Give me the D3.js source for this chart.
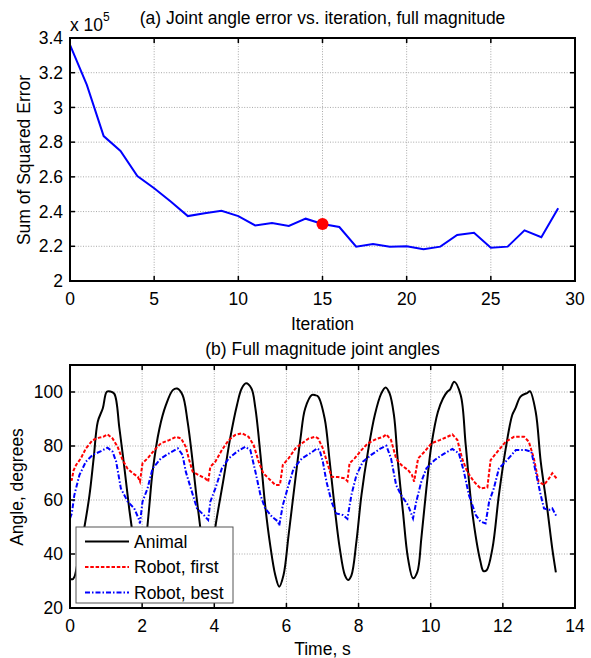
<!DOCTYPE html>
<html>
<head>
<meta charset="utf-8">
<script src="https://cdn.jsdelivr.net/npm/d3@7"></script>
<style>
  body { margin: 0; background: #fff; }
  text { font-family: "Liberation Sans", Arial, Helvetica, sans-serif; fill: #000; }
</style>
</head>
<body>
<svg id="visu" width="591" height="658"></svg>
<script>
// ---- data (a): error per iteration, in units of 1e5
var iterations = d3.range(0, 30);
var sse = [3.36, 3.13, 2.835, 2.749, 2.605, 2.534, 2.457, 2.374, 2.39, 2.405,
  2.374, 2.32, 2.334, 2.317, 2.359, 2.328, 2.311, 2.198, 2.213, 2.198,
  2.2, 2.183, 2.198, 2.265, 2.278, 2.192, 2.198, 2.292, 2.252, 2.419];
var bestIter = 15;
var xTicksA = [0, 5, 10, 15, 20, 25, 30];
var yTicksA = [2, 2.2, 2.4, 2.6, 2.8, 3, 3.2, 3.4];

// ---- data (b): joint angles [time s, angle deg]
var animal = [[0, 31], [0.06, 30.6], [0.12, 31.5], [0.2, 36], [0.3, 43], [0.4, 50], [0.54, 61.8],
  [0.66, 76], [0.77, 89], [0.91, 94], [1.02, 100.1], [1.12, 100.2], [1.23, 99.3], [1.37, 86.5],
  [1.51, 71.7], [1.64, 56.9], [1.76, 45], [1.86, 34], [1.94, 30.5], [2.02, 33], [2.11, 45],
  [2.2, 58], [2.29, 70.5], [2.48, 86.5], [2.66, 95.2], [2.85, 100.7], [2.97, 101.3], [3.12, 98.9],
  [3.26, 89], [3.4, 74.2], [3.5, 62], [3.61, 50], [3.72, 38], [3.82, 31], [3.9, 33], [3.96, 42],
  [4.03, 50], [4.26, 68], [4.44, 82.8], [4.63, 95.2], [4.76, 101.3], [4.88, 103.2], [5.03, 101.3],
  [5.14, 93.9], [5.28, 76.7], [5.41, 58.1], [5.55, 43.3], [5.69, 32.2], [5.8, 27.9], [5.92, 32.2],
  [6.06, 47], [6.25, 68], [6.39, 82.8], [6.52, 93.9], [6.71, 98.9], [6.8, 98.8], [6.88, 98.3],
  [7.06, 90.2], [7.2, 74.2], [7.34, 56.9], [7.48, 42], [7.62, 32.2], [7.71, 30.4], [7.8, 32],
  [7.94, 44.6], [8.08, 61.8], [8.26, 77.9], [8.45, 91.5], [8.63, 99.5], [8.75, 101.7], [8.86, 99.5],
  [8.98, 91.5], [9.09, 74.2], [9.23, 55.7], [9.37, 38.4], [9.51, 31], [9.63, 33.4], [9.74, 45.8],
  [9.88, 64.3], [10.02, 80.4], [10.2, 92.7], [10.34, 97.6], [10.46, 100.1], [10.54, 101],
  [10.65, 103.8], [10.83, 98.9], [10.97, 80.4], [11.15, 55.7], [11.38, 37.1], [11.46, 33.7],
  [11.55, 34], [11.71, 42], [11.89, 61.8], [12.08, 79.1], [12.26, 91.5], [12.35, 94], [12.49, 98.3],
  [12.68, 99.7], [12.75, 100.3], [12.91, 92.7], [13.05, 74.2], [13.23, 56.9], [13.37, 42], [13.47, 33.2]];

var robotFirst = [[0, 67.4], [0.05, 67.5], [0.1, 71], [0.17, 73], [0.3, 75.4], [0.44, 79.1],
  [0.63, 82.2], [0.81, 83.1], [0.92, 83.4], [1.04, 84.3], [1.18, 82.8], [1.32, 79.7], [1.46, 74.8],
  [1.59, 71.7], [1.74, 69.9], [1.88, 68.6], [1.94, 66.8], [2.01, 73.6], [2.15, 75.4], [2.34, 78.5],
  [2.52, 81], [2.75, 82.2], [2.94, 83.4], [3.08, 82.8], [3.21, 79.7], [3.3, 75], [3.4, 70.5],
  [3.57, 69.2], [3.75, 68], [3.83, 66.8], [3.89, 72.3], [4.03, 74.2], [4.21, 78.5], [4.4, 82.2],
  [4.58, 84.1], [4.77, 84.7], [4.95, 83.4], [5.09, 80.4], [5.23, 74.2], [5.36, 69.9], [5.55, 67.4],
  [5.69, 65.6], [5.82, 65.6], [5.9, 73], [6.06, 75.4], [6.25, 79.1], [6.43, 81], [6.62, 82.8],
  [6.8, 83.4], [6.88, 82.8], [7.01, 79.1], [7.15, 73], [7.25, 68.6], [7.43, 68.5], [7.62, 68],
  [7.69, 67], [7.75, 73.6], [7.89, 75.4], [8.08, 78.5], [8.26, 81], [8.49, 82.6], [8.68, 83.4],
  [8.77, 84.3], [8.9, 82.2], [9.04, 75.4], [9.18, 73], [9.37, 71.1], [9.48, 69.3], [9.54, 66.8],
  [9.65, 75.4], [9.83, 77.9], [10.02, 81], [10.25, 82.2], [10.46, 83.4], [10.6, 84.3], [10.74, 82.2],
  [10.87, 75.4], [11.01, 70.5], [11.2, 66.8], [11.38, 64.3], [11.57, 64.6], [11.66, 74.8],
  [11.85, 77.9], [12.08, 81.6], [12.31, 83.4], [12.59, 83.4], [12.72, 81.6], [12.86, 75.4],
  [12.99, 66.8], [13.14, 65.6], [13.28, 68], [13.37, 69.9], [13.49, 68]];

var robotBest = [[0, 53.2], [0.05, 55], [0.12, 61.8], [0.26, 69.2], [0.44, 74.2], [0.63, 76.7],
  [0.86, 78.1], [1.04, 79.4], [1.18, 77.9], [1.28, 74.2], [1.41, 64.3], [1.6, 59.4], [1.78, 56.9],
  [1.9, 53.2], [1.94, 51.3], [2.01, 59.4], [2.15, 64.3], [2.29, 71.7], [2.52, 75.4], [2.75, 77.3],
  [2.99, 79.1], [3.12, 76.7], [3.21, 70.5], [3.35, 64.3], [3.52, 56.9], [3.71, 54.4], [3.83, 52.6],
  [3.89, 59.4], [4.03, 64.3], [4.21, 71.7], [4.4, 75.4], [4.63, 77.9], [4.86, 79.7], [5.0, 78.5],
  [5.14, 70.5], [5.28, 61.8], [5.41, 56.9], [5.6, 53.8], [5.77, 52], [5.8, 50.5], [5.9, 58.1],
  [6.06, 65.6], [6.2, 71.7], [6.43, 75.4], [6.66, 77.3], [6.85, 79.1], [6.92, 78.5], [7.01, 74.2],
  [7.11, 66.8], [7.25, 59.4], [7.38, 55], [7.57, 54.4], [7.69, 53], [7.8, 61.8], [7.94, 69.2],
  [8.12, 74.2], [8.35, 76.7], [8.59, 78.9], [8.77, 80.1], [8.9, 75.4], [9.04, 65.6], [9.18, 61.8],
  [9.37, 58.1], [9.51, 53.2], [9.6, 59.4], [9.74, 66.8], [9.88, 71.7], [10.11, 74.8], [10.34, 76.9],
  [10.6, 78.9], [10.78, 77.3], [10.92, 70.5], [11.06, 61.8], [11.25, 54.4], [11.38, 52], [11.52, 51.3],
  [11.62, 59.4], [11.75, 64.3], [11.89, 71.7], [12.12, 74.8], [12.36, 78.5], [12.63, 78.5],
  [12.79, 77.9], [12.91, 70.5], [13.05, 61.8], [13.14, 56.9], [13.28, 56.3], [13.37, 56.9], [13.49, 53.8]];
var xTicksB = [0, 2, 4, 6, 8, 10, 12, 14];
var yTicksB = [20, 40, 60, 80, 100];
var legendNames = ["Animal", "Robot, first", "Robot, best"];

var FONT = 17.5;
var svg = d3.select("#visu");
svg.append("rect").attr("width", 591).attr("height", 658).attr("fill", "#fff");

// dotted grid under the data
function drawGrid(x, y, xt, yt) {
  var x0 = x.range()[0], x1 = x.range()[1];
  var y0 = y.range()[0], y1 = y.range()[1];
  var grid = svg.append("g").attr("stroke", "#a8a8a8").attr("stroke-width", 1)
    .attr("stroke-dasharray", "1,1.6");
  grid.selectAll(".gx").data(xt.slice(1, -1)).enter().append("line")
    .attr("x1", function (d) { return x(d); }).attr("x2", function (d) { return x(d); })
    .attr("y1", y0).attr("y2", y1);
  grid.selectAll(".gy").data(yt.slice(1, -1)).enter().append("line")
    .attr("y1", function (d) { return y(d); }).attr("y2", function (d) { return y(d); })
    .attr("x1", x0).attr("x2", x1);
}

// box, inward ticks on all four sides, tick labels
function drawBox(x, y, xt, yt, yfmt) {
  var x0 = x.range()[0], x1 = x.range()[1];
  var y0 = y.range()[0], y1 = y.range()[1];
  var g = svg.append("g");
  var tk = 5;
  var ticks = g.append("g").attr("stroke", "#000").attr("stroke-width", 1.5);
  xt.forEach(function (d) {
    ticks.append("line").attr("x1", x(d)).attr("x2", x(d)).attr("y1", y0).attr("y2", y0 - tk);
    ticks.append("line").attr("x1", x(d)).attr("x2", x(d)).attr("y1", y1).attr("y2", y1 + tk);
  });
  yt.forEach(function (d) {
    ticks.append("line").attr("y1", y(d)).attr("y2", y(d)).attr("x1", x0).attr("x2", x0 + tk);
    ticks.append("line").attr("y1", y(d)).attr("y2", y(d)).attr("x1", x1).attr("x2", x1 - tk);
  });
  g.append("rect").attr("x", x0).attr("y", y1).attr("width", x1 - x0).attr("height", y0 - y1)
    .attr("fill", "none").attr("stroke", "#000").attr("stroke-width", 2);
  g.selectAll(".xl").data(xt).enter().append("text")
    .attr("x", function (d) { return x(d); }).attr("y", y0 + 24)
    .attr("text-anchor", "middle").attr("font-size", FONT)
    .text(function (d) { return d; });
  g.selectAll(".yl").data(yt).enter().append("text")
    .attr("x", x0 - 7).attr("y", function (d) { return y(d); }).attr("dy", "0.35em")
    .attr("text-anchor", "end").attr("font-size", FONT)
    .text(yfmt);
}

// ---------------- (a)
var xA = d3.scaleLinear().domain([0, 30]).range([70, 575]);
var yA = d3.scaleLinear().domain([2, 3.4]).range([281, 38]);
drawGrid(xA, yA, xTicksA, yTicksA);

var lineA = d3.line()
  .x(function (d, i) { return xA(iterations[i]); })
  .y(function (d) { return yA(d); });
svg.append("path").attr("d", lineA(sse)).attr("fill", "none")
  .attr("stroke", "#0000ff").attr("stroke-width", 2);
svg.append("circle").attr("cx", xA(bestIter)).attr("cy", yA(sse[bestIter]))
  .attr("r", 6).attr("fill", "#ff0000");

drawBox(xA, yA, xTicksA, yTicksA, function (d) { return String(+d.toFixed(1)); });

svg.append("text").attr("x", 322.5).attr("y", 24).attr("text-anchor", "middle")
  .attr("font-size", FONT).text("(a) Joint angle error vs. iteration, full magnitude");
var exp = svg.append("text").attr("x", 70).attr("y", 31).attr("font-size", FONT);
exp.append("tspan").text("x 10");
exp.append("tspan").attr("dy", -10).attr("font-size", 12).text("5");
svg.append("text").attr("x", 322.5).attr("y", 330).attr("text-anchor", "middle")
  .attr("font-size", FONT).text("Iteration");
svg.append("text").attr("transform", "translate(30,160) rotate(-90)")
  .attr("text-anchor", "middle").attr("font-size", FONT).text("Sum of Squared Error");

// ---------------- (b)
var xB = d3.scaleLinear().domain([0, 14]).range([70, 575]);
var yB = d3.scaleLinear().domain([20, 110]).range([608, 365]);
drawGrid(xB, yB, xTicksB, yTicksB.concat([110]));

var lineB = d3.line()
  .x(function (d) { return xB(d[0]); })
  .y(function (d) { return yB(d[1]); });
var styles = [
  { data: animal, color: "#000000", dash: null, curve: d3.curveCatmullRom.alpha(0.5) },
  { data: robotFirst, color: "#ff0000", dash: "3.5,1.8", curve: d3.curveLinear },
  { data: robotBest, color: "#0000ff", dash: "5,2,1.5,2", curve: d3.curveLinear }
];
styles.forEach(function (s) {
  svg.append("path").attr("d", lineB.curve(s.curve)(s.data)).attr("fill", "none")
    .attr("stroke", s.color).attr("stroke-width", 2).attr("stroke-dasharray", s.dash);
});

drawBox(xB, yB, xTicksB, yTicksB, function (d) { return d; });

svg.append("text").attr("x", 322.5).attr("y", 355).attr("text-anchor", "middle")
  .attr("font-size", FONT).text("(b) Full magnitude joint angles");
svg.append("text").attr("x", 322.5).attr("y", 655).attr("text-anchor", "middle")
  .attr("font-size", FONT).text("Time, s");
svg.append("text").attr("transform", "translate(23,487) rotate(-90)")
  .attr("text-anchor", "middle").attr("font-size", FONT).text("Angle, degrees");

// legend
var leg = svg.append("g");
leg.append("rect").attr("x", 76).attr("y", 527).attr("width", 157).attr("height", 76)
  .attr("fill", "#fff").attr("stroke", "#555").attr("stroke-width", 1);
styles.forEach(function (s, i) {
  var yy = 541.5 + i * 25.5;
  leg.append("line").attr("x1", 85).attr("x2", 129).attr("y1", yy).attr("y2", yy)
    .attr("stroke", s.color).attr("stroke-width", 2).attr("stroke-dasharray", s.dash);
  leg.append("text").attr("x", 134).attr("y", yy + 6).attr("font-size", FONT)
    .text(legendNames[i]);
});
</script>
</body>
</html>
